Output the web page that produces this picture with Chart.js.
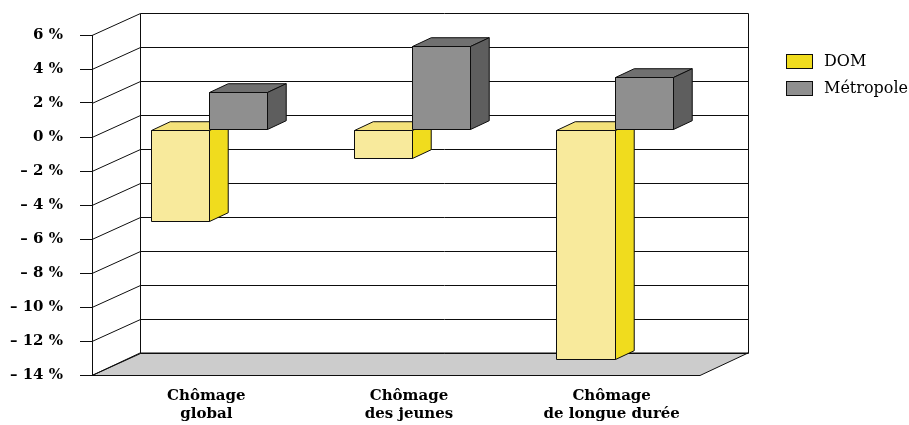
<!DOCTYPE html>
<html>
<head>
<meta charset="utf-8">
<script src="https://cdn.jsdelivr.net/npm/chart.js@4.4.1/dist/chart.umd.min.js"></script>
<style>
  html, body { margin: 0; padding: 0; background: #ffffff; }
  canvas { display: block; }
</style>
</head>
<body>
<canvas id="chart" width="909" height="425"></canvas>
<script>
// Categories (two-line labels) and series values, in %
const categories = [['Chômage', 'global'], ['Chômage', 'des jeunes'], ['Chômage', 'de longue durée']];
const seriesNames = ['DOM', 'Métropole'];
const domValues = [-5.4, -1.7, -13.5];
const metroValues = [2.2, 4.9, 3.1];
const yMin = -14;
const yMax = 6;
const yStep = 2;

// Face colours of each series box: front, side, top, legend key
const faces = [
  { front: '#F8EA9C', side: '#F0DC1E', top: '#F4E27A', key: '#F0DC1E' },
  { front: '#8F8F8F', side: '#5E5E5E', top: '#707070', key: '#8F8F8F' }
];

// Oblique depth of the box (back wall offset) and where the bar slab sits in it
const DEPTH_X = 48;
const DEPTH_Y = -22.5;
const BAR_FRONT = 0.33;
const BAR_BACK = 0.72;
const LINE = '#0d0d0d';

const crisp = v => Math.round(v) + 0.5;

function face(ctx, pts, fill) {
  ctx.beginPath();
  ctx.moveTo(pts[0][0], pts[0][1]);
  for (let k = 1; k < pts.length; k++) ctx.lineTo(pts[k][0], pts[k][1]);
  ctx.closePath();
  ctx.fillStyle = fill;
  ctx.fill();
  ctx.stroke();
}

const box3d = {
  id: 'box3d',
  // floor, side wall and back wall with their gridlines
  beforeDraw(chart) {
    const { ctx, chartArea: a, scales: { y } } = chart;
    const L = a.left, R = a.right;
    const yb = crisp(y.getPixelForValue(yMin));
    const yt = crisp(y.getPixelForValue(yMax));
    ctx.save();
    ctx.strokeStyle = LINE;
    ctx.lineWidth = 1;
    face(ctx, [[L, yb], [R, yb], [R + DEPTH_X, yb + DEPTH_Y], [L + DEPTH_X, yb + DEPTH_Y]], '#CCCCCC');
    y.ticks.forEach(t => {
      const py = crisp(y.getPixelForValue(t.value));
      ctx.beginPath();
      ctx.moveTo(L, py);
      ctx.lineTo(crisp(L + DEPTH_X), crisp(py + DEPTH_Y));
      ctx.lineTo(crisp(R + DEPTH_X), crisp(py + DEPTH_Y));
      ctx.stroke();
    });
    ctx.beginPath();
    ctx.moveTo(crisp(L + DEPTH_X), crisp(yt + DEPTH_Y));
    ctx.lineTo(crisp(L + DEPTH_X), crisp(yb + DEPTH_Y));
    ctx.moveTo(crisp(R + DEPTH_X), crisp(yt + DEPTH_Y));
    ctx.lineTo(crisp(R + DEPTH_X), crisp(yb + DEPTH_Y));
    ctx.stroke();
    ctx.restore();
  },
  // each bar as a box: front, top and side faces
  beforeDatasetsDraw(chart) {
    const ctx = chart.ctx;
    const fx = DEPTH_X * BAR_FRONT, fy = DEPTH_Y * BAR_FRONT;
    const dx = DEPTH_X * (BAR_BACK - BAR_FRONT), dy = DEPTH_Y * (BAR_BACK - BAR_FRONT);
    ctx.save();
    ctx.strokeStyle = LINE;
    ctx.lineWidth = 1;
    ctx.lineJoin = 'miter';
    for (let i = 0; i < chart.data.labels.length; i++) {
      chart.data.datasets.forEach((ds, di) => {
        const el = chart.getDatasetMeta(di).data[i];
        const p = el.getProps(['x', 'y', 'base', 'width'], true);
        const L = crisp(p.x - p.width / 2 + fx), R = crisp(p.x + p.width / 2 + fx);
        const T = crisp(Math.min(p.y, p.base) + fy), B = crisp(Math.max(p.y, p.base) + fy);
        const f = faces[di];
        face(ctx, [[L, T], [R, T], [R, B], [L, B]], f.front);
        face(ctx, [[L, T], [L + dx, T + dy], [R + dx, T + dy], [R, T]], f.top);
        face(ctx, [[R, T], [R + dx, T + dy], [R + dx, B + dy], [R, B]], f.side);
      });
    }
    ctx.restore();
    return false;
  },
  // legend keys
  afterDraw(chart) {
    const { ctx, chartArea: a } = chart;
    const kx = a.right + 86;
    ctx.save();
    ctx.font = '16px "DejaVu Serif"';
    ctx.textBaseline = 'middle';
    ctx.textAlign = 'left';
    ctx.strokeStyle = LINE;
    ctx.lineWidth = 1;
    chart.data.datasets.forEach((ds, di) => {
      const ky = 54 + di * 27;
      ctx.fillStyle = faces[di].key;
      ctx.fillRect(kx, ky, 27, 15);
      ctx.strokeRect(kx + 0.5, ky + 0.5, 26, 14);
      ctx.fillStyle = '#000000';
      ctx.fillText(ds.label, kx + 38, ky + 8);
    });
    ctx.restore();
  }
};

const tickFont = { family: 'DejaVu Serif', weight: 'bold', size: 15, lineHeight: 1.2 };

new Chart(document.getElementById('chart'), {
  type: 'bar',
  data: {
    labels: categories,
    datasets: [
      { label: seriesNames[0], data: domValues, backgroundColor: faces[0].front, borderColor: LINE, borderWidth: 1 },
      { label: seriesNames[1], data: metroValues, backgroundColor: faces[1].front, borderColor: LINE, borderWidth: 1 }
    ]
  },
  options: {
    responsive: false,
    animation: false,
    events: [],
    layout: { padding: { top: 35, right: 209, left: 0, bottom: 0 } },
    datasets: { bar: { categoryPercentage: 0.575, barPercentage: 1.0 } },
    plugins: { legend: { display: false }, tooltip: { enabled: false } },
    scales: {
      x: {
        grid: { display: false, drawTicks: false },
        border: { display: false },
        ticks: { color: '#000000', font: tickFont, padding: 12, labelOffset: 13, maxRotation: 0, autoSkip: false },
        afterFit: s => { s.height = 50; }
      },
      y: {
        min: yMin,
        max: yMax,
        ticks: {
          stepSize: yStep,
          color: '#000000',
          font: tickFont,
          padding: 17,
          callback: v => (v < 0 ? '– ' + Math.abs(v) : String(v)) + ' %'
        },
        grid: { drawOnChartArea: false, drawTicks: true, tickLength: 12, color: LINE, lineWidth: 1 },
        border: { display: true, color: LINE, width: 1 },
        afterFit: s => { s.width = 92; }
      }
    }
  },
  plugins: [box3d]
});
</script>
</body>
</html>
